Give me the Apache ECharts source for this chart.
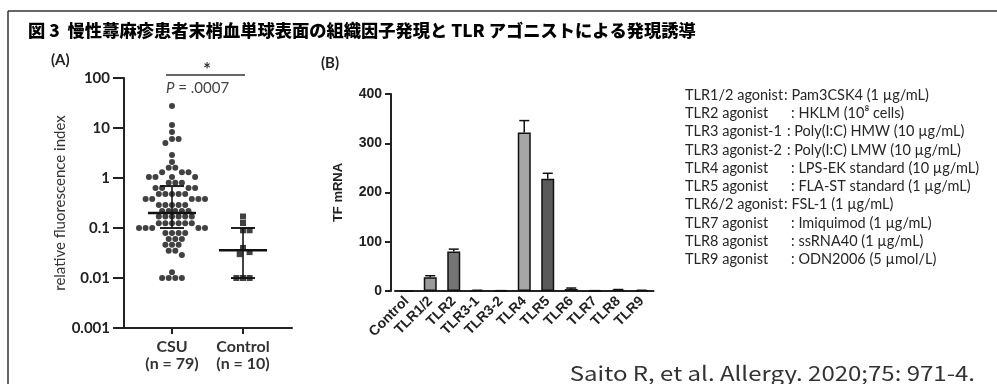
<!DOCTYPE html>
<html><head><meta charset="utf-8">
<script src="https://cdn.jsdelivr.net/npm/echarts@6/dist/echarts.min.js"></script>
<style>html,body{margin:0;padding:0;background:#fff}#c{width:997px;height:384px}</style>
</head><body><div id="c"></div>
<script>
// ---------- DATA ----------
const titleText = '図 3  慢性蕁麻疹患者末梢血単球表面の組織因子発現と TLR アゴニストによる発現誘導';
const groupsA = ['CSU', 'Control'];
const groupLabelsA = ['CSU\n(n = 79)', 'Control\n(n = 10)'];
const yTickLabelsA = ['0.001', '0.01', '0.1', '1', '10', '100'];
const csuValues = [27.5, 11.5, 8.3, 6, 6, 5, 2.9, 2.1, 1.6, 1.6,
  1.3, 1.3, 1.3,
  1.05, 1.05, 1.05, 1.05,
  0.8, 0.8, 0.8,
  0.63, 0.63, 0.63, 0.63,
  0.48, 0.48, 0.48, 0.48, 0.48,
  0.38, 0.38, 0.38, 0.38, 0.38,
  0.29, 0.29, 0.29, 0.29, 0.29,
  0.22, 0.22, 0.22, 0.22, 0.22,
  0.17, 0.17, 0.17, 0.17, 0.17, 0.17,
  0.125, 0.125, 0.125, 0.125, 0.125, 0.125,
  0.1, 0.1, 0.1, 0.1, 0.1,
  0.079, 0.079, 0.079, 0.079,
  0.06, 0.06, 0.06,
  0.046, 0.046, 0.046,
  0.035, 0.035,
  0.029,
  0.013,
  0.01, 0.01, 0.01, 0.01];
const controlValues = [0.17, 0.126, 0.09, 0.09, 0.04, 0.033, 0.03, 0.01, 0.01, 0.01];
const medianA = [0.2, 0.036];
const lowA = [0.1, 0.01];
const highA = [0.69, 0.1];
const sigLabel = '{i|P} = .0007';

const categoriesB = ['Control', 'TLR1/2', 'TLR2', 'TLR3-1', 'TLR3-2', 'TLR4', 'TLR5', 'TLR6', 'TLR7', 'TLR8', 'TLR9'];
const valuesB = [0, 28, 80, 1, 0.5, 322, 228, 4, 0.5, 2, 1];
const errorsB = [0, 3, 5, 0.5, 0.3, 24, 11, 2, 0.3, 1, 0.5];

const legendLeft = ['TLR1/2 agonist', 'TLR2 agonist', 'TLR3 agonist-1', 'TLR3 agonist-2', 'TLR4 agonist',
  'TLR5 agonist', 'TLR6/2 agonist', 'TLR7 agonist', 'TLR8 agonist', 'TLR9 agonist'];
const legendRight = [': Pam3CSK4 (1 µg/mL)', ': HKLM (10⁸ cells)', ': Poly(I:C) HMW (10 µg/mL)',
  ': Poly(I:C) LMW (10 µg/mL)', ': LPS-EK standard (10 µg/mL)', ': FLA-ST standard (1 µg/mL)',
  ': FSL-1 (1 µg/mL)', ': Imiquimod (1 µg/mL)', ': ssRNA40 (1 µg/mL)', ': ODN2006 (5 µmol/L)'];
const citation = 'Saito R, et al. Allergy. 2020;75: 971-4.';

// ---------- STYLES ----------
const barColorsB = ['#999', '#9a9a9a', '#747474', '#888', '#888', '#a6a6a6', '#5a5a5a', '#555', '#888', '#777', '#888'];
const colonMode = ['attached', 'aligned', 'spaced', 'spaced', 'aligned', 'aligned', 'attached', 'aligned', 'aligned', 'aligned'];
const FONT = 'Lato, "Noto Sans", sans-serif';
const LEG_SIZE = 14.5;

const chart = echarts.init(document.getElementById('c'));
const mctx = document.createElement('canvas').getContext('2d');
mctx.font = LEG_SIZE + 'px Lato';
const mw = t => mctx.measureText(t).width;

function whiskerA(params, api) {
  const x = api.value(0), lo = api.value(2), hi = api.value(3);
  const pl = api.coord([x, lo]), ph = api.coord([x, hi]);
  return { type: 'group', children: [
    { type: 'line', shape: { x1: pl[0], y1: pl[1], x2: ph[0], y2: ph[1] }, style: { stroke: '#444', lineWidth: 2 } },
    { type: 'line', shape: { x1: ph[0] - 12, y1: ph[1], x2: ph[0] + 12, y2: ph[1] }, style: { stroke: '#222', lineWidth: 2 } },
    { type: 'line', shape: { x1: pl[0] - 12, y1: pl[1], x2: pl[0] + 12, y2: pl[1] }, style: { stroke: '#222', lineWidth: 2 } }
  ]};
}
function medianLineA(params, api) {
  const p = api.coord([api.value(0), api.value(1)]);
  return { type: 'line', shape: { x1: p[0] - 24, y1: p[1], x2: p[0] + 24, y2: p[1] }, style: { stroke: '#111', lineWidth: 2.5 } };
}
function errB(params, api) {
  const i = api.value(0), v = api.value(1), e = api.value(2);
  if (!e) return null;
  const p0 = api.coord([i, v]), p1 = api.coord([i, v + e]);
  const st = { stroke: '#111', lineWidth: 1.5 };
  return { type: 'group', children: [
    { type: 'line', shape: { x1: p0[0], y1: p0[1], x2: p1[0], y2: p1[1] }, style: st },
    { type: 'line', shape: { x1: p1[0] - 5, y1: p1[1], x2: p1[0] + 5, y2: p1[1] }, style: st }
  ]};
}

const graphics = [];
graphics.push({ type: 'line', shape: { x1: 8, y1: 11, x2: 997, y2: 11 }, style: { stroke: '#333', lineWidth: 1.5 } });
graphics.push({ type: 'line', shape: { x1: 8, y1: 11, x2: 8, y2: 384 }, style: { stroke: '#333', lineWidth: 1.5 } });
graphics.push({ type: 'text', x: 28, y: 31, scaleX: 1.015, style: { text: titleText, font: '900 17px "Noto Sans CJK JP"', fill: '#000', verticalAlign: 'middle' } });
graphics.push({ type: 'text', x: 51, y: 60, style: { text: '(A)', font: 'bold 15px ' + FONT, fill: '#222', verticalAlign: 'middle' } });
graphics.push({ type: 'text', x: 321, y: 63, style: { text: '(B)', font: 'bold 15px ' + FONT, fill: '#222', verticalAlign: 'middle' } });
graphics.push({ type: 'line', shape: { x1: 166, y1: 75, x2: 245, y2: 75 }, style: { stroke: '#333', lineWidth: 1.3 } });
graphics.push({ type: 'text', x: 207, y: 70, style: { text: '*', font: 'bold 18px ' + FONT, fill: '#333', align: 'center', verticalAlign: 'middle' } });
graphics.push({ type: 'text', x: 166, y: 88, style: { text: sigLabel, font: '15px ' + FONT, fill: '#444', verticalAlign: 'middle',
  rich: { i: { fontStyle: 'italic', fontSize: 15, fontFamily: FONT, fill: '#444' } } } });
const colonBase = 685 + mw(legendLeft[0]) + 1;
legendLeft.forEach((t, k) => {
  const y = 95 + k * 18.3;
  let cx;
  if (colonMode[k] === 'attached') cx = 685 + mw(t) + 1;
  else if (colonMode[k] === 'spaced') cx = 685 + mw(t) + 5;
  else cx = colonBase + 7;
  graphics.push({ type: 'text', x: 685, y: y, style: { text: t, font: LEG_SIZE + 'px ' + FONT, fill: '#262626', verticalAlign: 'middle' } });
  graphics.push({ type: 'text', x: cx, y: y, style: { text: legendRight[k], font: LEG_SIZE + 'px ' + FONT, fill: '#262626', verticalAlign: 'middle' } });
});
graphics.push({ type: 'text', x: 975, y: 373, scaleX: 1.2, style: { text: citation, font: '20px "Noto Sans CJK JP"', fill: '#333', align: 'right', verticalAlign: 'middle' } });

const option = {
  animation: false,
  backgroundColor: '#fff',
  grid: [
    { left: 124, top: 78, width: 168, height: 250, outerBoundsMode: 'none' },
    { left: 395, top: 94, width: 258.5, height: 197, outerBoundsMode: 'none' }
  ],
  xAxis: [
    { type: 'value', gridIndex: 0, min: 1 - 48 / 71, max: 1 - 48 / 71 + 168 / 71,
      axisLine: { show: true, lineStyle: { color: '#222', width: 2 } },
      splitLine: { show: false },
      axisTick: { show: true, customValues: [1, 2], length: 6, lineStyle: { color: '#222', width: 2 } },
      axisLabel: { customValues: [1, 2], formatter: v => groupLabelsA[Math.round(v) - 1], color: '#333',
        fontFamily: FONT, fontWeight: 'bold', fontSize: 16, lineHeight: 17, margin: 10 } },
    { type: 'category', gridIndex: 1, data: categoriesB,
      axisLine: { lineStyle: { color: '#222', width: 2 } },
      axisTick: { alignWithLabel: true, length: 6, lineStyle: { color: '#222', width: 2 } },
      axisLabel: { rotate: 45, interval: 0, color: '#222', fontFamily: 'Liberation Sans, Arial', fontWeight: 'bold', fontSize: 14, margin: 8 } }
  ],
  yAxis: [
    { type: 'log', gridIndex: 0, logBase: 10, min: 0.001, max: 100,
      name: 'relative fluorescence index', nameLocation: 'middle', nameGap: 56,
      nameTextStyle: { fontFamily: FONT, fontSize: 15, color: '#333' },
      axisLine: { show: true, lineStyle: { color: '#222', width: 2 } },
      splitLine: { show: false },
      axisTick: { show: true, length: 11, lineStyle: { color: '#222', width: 2 } },
      minorTick: { show: false },
      axisLabel: { formatter: v => yTickLabelsA[Math.round(Math.log10(v)) + 3], color: '#222',
        fontFamily: FONT, fontWeight: 'bold', fontSize: 15, margin: 14 } },
    { type: 'value', gridIndex: 1, min: 0, max: 400, interval: 100, offset: 4,
      name: 'TF mRNA', nameLocation: 'middle', nameGap: 46,
      nameTextStyle: { fontFamily: 'Liberation Sans, Arial', fontWeight: 'bold', fontSize: 13, color: '#222' },
      axisLine: { show: true, lineStyle: { color: '#222', width: 2 } },
      splitLine: { show: false },
      axisTick: { show: true, length: 6, lineStyle: { color: '#222', width: 2 } },
      axisLabel: { color: '#222', fontFamily: 'Liberation Sans, Arial', fontWeight: 'bold', fontSize: 14, margin: 9 } }
  ],
  series: [
    { type: 'custom', id: 'whiskA', xAxisIndex: 0, yAxisIndex: 0, z: 1, renderItem: whiskerA,
      data: groupsA.map((g, i) => [i + 1, medianA[i], lowA[i], highA[i]]) },
    { type: 'scatter', id: 'csu', xAxisIndex: 0, yAxisIndex: 0, z: 2, symbol: 'circle', symbolSize: 6,
      itemStyle: { color: '#111' }, data: [] },
    { type: 'scatter', id: 'ctrl', xAxisIndex: 0, yAxisIndex: 0, z: 2, symbol: 'rect', symbolSize: 6,
      itemStyle: { color: '#111' }, data: [] },
    { type: 'custom', id: 'medA', xAxisIndex: 0, yAxisIndex: 0, z: 3, renderItem: medianLineA,
      data: groupsA.map((g, i) => [i + 1, medianA[i]]) },
    { type: 'bar', xAxisIndex: 1, yAxisIndex: 1, barWidth: 13,
      data: valuesB.map((v, i) => ({ value: v, itemStyle: { color: barColorsB[i], borderColor: '#111', borderWidth: 1.5 } })) },
    { type: 'custom', xAxisIndex: 1, yAxisIndex: 1, z: 3, renderItem: errB,
      data: valuesB.map((v, i) => [i, v, errorsB[i]]) }
  ],
  graphic: graphics
};
chart.setOption(option);

// beeswarm layout in pixel space using the chart's own scales
function swarm(values, center) {
  const order = values.map((v, i) => i).sort((a, b) => values[b] - values[a]);
  const placed = [];
  const out = new Array(values.length);
  const D = 6.3, S = 3.3;
  order.forEach(idx => {
    const v = values[idx];
    const p = chart.convertToPixel({ xAxisIndex: 0, yAxisIndex: 0 }, [center, v]);
    let dx = 0;
    for (let k = 0; k < 40; k++) {
      const cand = k === 0 ? 0 : (k % 2 === 1 ? 1 : -1) * Math.ceil(k / 2) * S;
      const ok = placed.every(q => Math.hypot(q[0] - (p[0] + cand), q[1] - p[1]) >= D);
      if (ok) { dx = cand; break; }
    }
    placed.push([p[0] + dx, p[1]]);
    const xv = chart.convertFromPixel({ xAxisIndex: 0, yAxisIndex: 0 }, [p[0] + dx, p[1]])[0];
    out[idx] = [xv, v];
  });
  return out;
}
chart.setOption({ series: [{ id: 'csu', data: swarm(csuValues, 1) }, { id: 'ctrl', data: swarm(controlValues, 2) }] });
</script></body></html>
